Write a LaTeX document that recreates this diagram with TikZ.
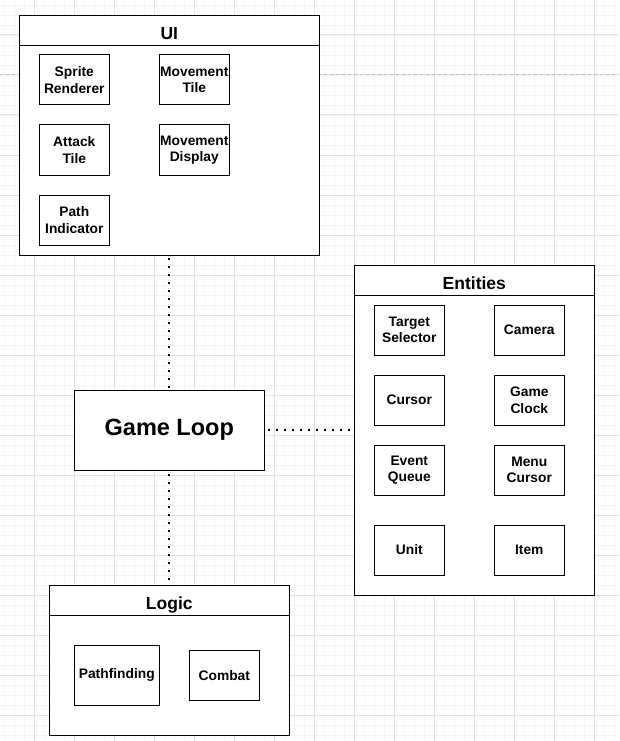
\documentclass[tikz,border=0pt]{standalone}
\usepackage{fontspec}
\setmainfont{Liberation Sans}
\usepackage{tikz}
\usetikzlibrary{positioning}
\definecolor{minorline}{HTML}{F4F4F4}
\definecolor{majorline}{HTML}{E2E2E2}
\definecolor{breakline}{HTML}{C0C0C0}
\tikzset{every picture/.style={line width=1pt},
lane/.style={draw, fill=white, inner sep=0pt, outer sep=0pt},
lanehead/.style={draw, inner sep=0pt, outer sep=0pt, minimum height=30pt, text height=18pt, text depth=0pt, font=\bfseries\fontsize{17.5}{21}\selectfont},
part/.style={draw, fill=white, inner sep=0pt, minimum width=70pt, minimum height=50pt, align=center, font=\bfseries\fontsize{13.8}{16.6}\selectfont},
loopbox/.style={draw, fill=white, inner sep=0pt, minimum width=190pt, minimum height=80pt, font=\bfseries\fontsize{23.5}{28}\selectfont},
link/.style={line width=2pt, dash pattern=on 2pt off 6pt, dash phase=-3pt},
minorgrid/.style={draw=minorline, line width=0.8pt},
majorgrid/.style={draw=majorline, line width=1pt},
pagebreak/.style={draw=breakline, line width=1pt, dash pattern=on 3pt off 3pt}}

\begin{document}
\begin{tikzpicture}[x=1pt,y=-1pt]
\useasboundingbox[fill=white] (0,0) rectangle (619,741);
% grid
\foreach \gx in {4,14,...,614} {\draw[minorgrid] (\gx,0) -- (\gx,741);}
\foreach \gy in {5,15,...,735} {\draw[minorgrid] (0,\gy) -- (619,\gy);}
\foreach \gx in {34,74,...,594} {\draw[majorgrid] (\gx,0) -- (\gx,741);}
\foreach \gy in {35,75,...,715} {\draw[majorgrid] (0,\gy) -- (619,\gy);}
\draw[pagebreak] (0,75) -- (619,75);

% UI
\node (ui) at (169.3,135.3) [lane, minimum width=300pt, minimum height=240pt] {};
\node (uihead) [lanehead, minimum width=300pt, below=0pt of ui.north] {UI};
\node (spr) at (74.3,80) [part] {Sprite\\Renderer};
\node (mvt) [part, right of = spr, node distance = 120pt] {Movement\\Tile};
\node (att) [part, below of = spr, node distance = 70pt] {Attack\\Tile};
\node (mvd) [part, below of = mvt, node distance = 70pt] {Movement\\Display};
\node (pth) [part, below of = att, node distance = 70pt] {Path\\Indicator};

% Entities
\node (ent) at (474.3,430) [lane, minimum width=240pt, minimum height=330pt] {};
\node (enthead) [lanehead, minimum width=240pt, below=0pt of ent.north] {Entities};
\node (tgt) at (409.3,330) [part] {Target\\Selector};
\node (cam) [part, right of = tgt, node distance = 120pt] {Camera};
\node (cur) [part, below of = tgt, node distance = 70pt] {Cursor};
\node (clk) [part, below of = cam, node distance = 70pt] {Game\\Clock};
\node (evq) [part, below of = cur, node distance = 70pt] {Event\\Queue};
\node (mnc) [part, below of = clk, node distance = 70pt] {Menu\\Cursor};
\node (unt) [part, below of = evq, node distance = 80pt] {Unit};
\node (itm) [part, below of = mnc, node distance = 80pt] {Item};

% Game Loop
\node (loop) at (169.3,430) [loopbox] {Game Loop};

% Logic
\node (lgc) at (169.3,660.3) [lane, minimum width=240pt, minimum height=150pt] {};
\node (lgchead) [lanehead, minimum width=240pt, below=0pt of lgc.north] {Logic};
\node (pfd) at (116.8,675.3) [part, minimum width=85pt, minimum height=60pt] {Pathfinding};
\node (cmb) at (224.3,675.3) [part] {Combat};

\draw[link] (ui.south) -- (loop.north);
\draw[link] (loop.south) -- (lgc.north);
\draw[link] (loop.east) -- (ent.west);
\end{tikzpicture}
\end{document}
